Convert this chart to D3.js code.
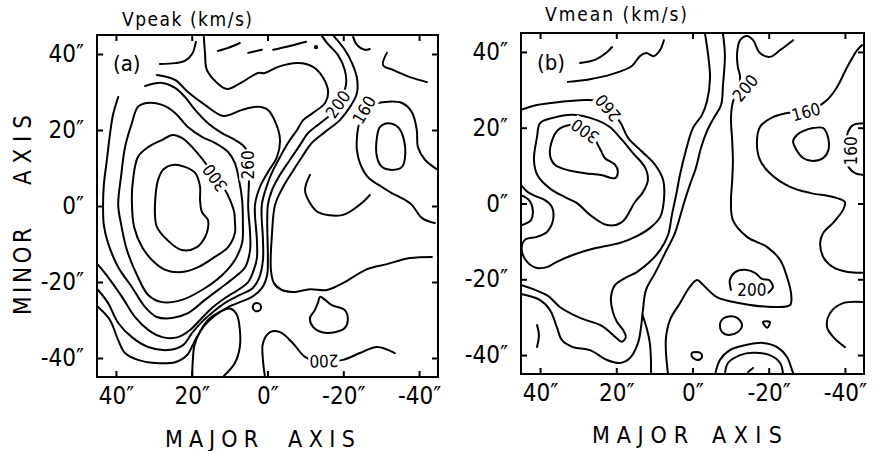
<!DOCTYPE html>
<html>
<head>
<meta charset="utf-8">
<script src="https://cdn.jsdelivr.net/npm/d3@7"></script>
<style>
body { margin: 0; background: #fff; }
svg { display: block; }
text { font-family: "DejaVu Sans Condensed", "DejaVu Sans", sans-serif; fill: #000; }
</style>
</head>
<body>
<svg id="chart" width="877" height="451"></svg>
<script>
// tick values and labels (arcsec)
const ticks = [40, 20, 0, -20, -40];
const tickText = ["40\u2033", "20\u2033", "0\u2033", "-20\u2033", "-40\u2033"];
const titles = ["Vpeak (km/s)", "Vmean (km/s)"];
const tags = ["(a)", "(b)"];

// panel (a) Vpeak contours: [major, minor] offsets in arcsec
const peakLines = [
  {v: 320, closed: true, pts: [[29.7,0.3],[29.4,4.2],[28.9,6.8],[27.6,9.5],[25,10.8],[21.8,10.3],[19.1,8.7],[17.8,5],[17.8,1.6],[17.3,-1.6],[15.7,-3.7],[15.7,-5.8],[16.5,-8.2],[18.6,-10.8],[22.6,-11.6],[26.5,-8.9],[29.2,-5.5],[29.7,-2.4]]},
  {v: 300, closed: true, pts: [[35.8,1.6],[35.5,6.8],[34.2,12.9],[31.5,15.5],[27.8,17.4],[25,18.7],[22.6,17.9],[19.7,15.3],[17,12.1],[13.9,7.9],[11.2,4.2],[9.9,1.6],[8.8,-1.6],[8.6,-4.2],[8.6,-7.1],[10.4,-10.8],[13.9,-13.4],[18.3,-16.1],[22.6,-17.4],[27,-16.8],[30.5,-14.2],[33.1,-10.8],[35.2,-5.5]]},
  {v: 280, closed: true, pts: [[39.4,0.3],[38.6,8.2],[37.6,15.5],[35.8,21.8],[34.2,26.1],[31.8,27.1],[27.8,26.6],[24.4,24.5],[21,20.8],[17.3,18.2],[13.9,16.6],[10.4,14.2],[8.6,11.3],[7.5,6.8],[6.7,1.6],[6.5,-4.5],[6.7,-9.7],[8.6,-14.2],[12,-18.2],[17.3,-22.1],[22.6,-24.7],[27.8,-25.3],[31.5,-23.4],[34.2,-18.7],[37.1,-11.6],[38.6,-5]]},
  {v: 260, closed: false, pts: [[39.4,28.7],[40.8,23.9],[41.6,18.7],[42.4,12.1],[43.2,5.5],[43.4,0.3],[43.2,-5],[42.1,-9.7],[39.4,-16.1],[35.8,-21.3],[32.3,-26.6],[29.2,-29.2],[25.2,-29.5],[21,-28.2],[16.5,-24.7],[12,-21.3],[8.6,-18.7],[5.9,-16.1],[4.6,-11.6],[4.6,-7.1],[5.1,-0.3],[4.9,6.1],[4.9,10.8],[5.9,15.3],[8.6,17.4],[12,19.2],[15.7,21.8],[19.1,25.3],[21.8,28.7],[24.4,31.1],[27.8,32.4],[32.3,31.6]]},
  {v: 240, closed: false, pts: [[29.2,34.5],[24.4,33.2],[21,30],[16.5,26.6],[11.7,23.7],[6.7,25.3],[2.5,26.1],[-0.1,25.3],[-2.2,21.8],[-3.3,17.4],[-2.5,12.9],[-0.1,8.9],[2,5],[3.3,0.3],[2.8,-8.9],[2.8,-13.7],[3.6,-16.8],[5.1,-20],[7.8,-22.1],[11.2,-24.2],[14.6,-26.8],[17.8,-30],[20.4,-32.6],[23.6,-34.5],[27.8,-34.5],[31.5,-32.6],[35,-29.2],[38.4,-23.9],[42.1,-18.7],[44.7,-15.5]]},
  {v: 220, closed: false, pts: [[44.7,-22.1],[42.1,-25.5],[39.4,-30.8],[35.8,-34.5],[31.5,-37.1],[26.3,-37.9],[22.3,-36.6],[19.9,-33.4],[17.3,-30.5],[14.4,-27.9],[10.9,-25.3],[7.3,-23.4],[4.1,-21.8],[2.2,-18.9],[1.2,-14.2],[1.2,-8.9],[1.5,0.3],[-0.1,6.1],[-1.5,9.5],[-3.3,12.9],[-5.4,16.6],[-7.8,20],[-9.4,22.6],[-12,24.5],[-15.2,27.1],[-16,30],[-14.6,33.9],[-12,36.6],[-8,37.6],[-2.8,36.6],[0.7,35],[2.5,35],[6.7,32.6],[10.7,30.8],[13.3,32.4],[16,35.8],[16.5,40.3],[16.8,44.5]]},
  {v: 200, closed: false, pts: [[44.7,-26.6],[41.6,-30],[39.4,-35.3],[37.6,-38.7],[34.2,-40.5],[29.7,-41.3],[24.4,-41.1],[21.2,-39.2],[19.1,-35.3],[16.5,-31.3],[13.9,-28.9],[10.4,-26.6],[7.3,-25.3],[4.1,-23.9],[1.5,-21.6],[0.1,-18.2],[-0.1,-14.2],[-0.1,0.3],[-1.2,4.2],[-3.3,8.2],[-5.9,12.1],[-8.6,16.1],[-10.7,19.2],[-13.9,21.8],[-16.5,23.9],[-19.1,27.9],[-20.7,31.8],[-20.4,35.8],[-18.6,39.7],[-15.7,42.9],[-14.4,44.7]]},
  {v: 180, closed: false, pts: [[-17.5,44.7],[-20.4,41.1],[-22.3,37.6],[-23.6,33.7],[-23.6,29.7],[-21.8,26.1],[-19.1,22.6],[-15.2,19.5],[-11.7,16.6],[-9.1,12.9],[-6.5,8.9],[-4.1,5],[-2,0.3],[-1.2,-7.1],[-0.9,-16.8],[-1.7,-20.3],[-3.8,-22.1],[-7.3,-22.6],[-11.2,-21.9],[-15.7,-22.1],[-19.9,-20.3],[-26.3,-16.6],[-31.5,-15.3],[-37.6,-13.7],[-43.4,-13.4]]},
  {v: 160, closed: false, pts: [[-45,9.5],[-41.6,12.1],[-39.7,15.5],[-39.4,20],[-38.1,24.7],[-35.5,27.1],[-31,27.4],[-27.6,26.6],[-25.5,24.5],[-24.1,21.3],[-23.6,17.9],[-23.6,14.7],[-24.4,11.3],[-26.5,7.6],[-30.2,5],[-32.8,3.4],[-36.3,1.6],[-38.1,0.3],[-40.8,-3.2],[-44.2,-4.5]]},
  {v: 140, closed: true, pts: [[-29.7,20.8],[-31.8,21.8],[-34.4,20.8],[-35.8,18.2],[-36.3,12.9],[-35.5,10.3],[-32.8,9.5],[-30.2,10.3],[-28.9,12.9],[-28.9,18.2]]},
  {v: 180, closed: false, pts: [[-11.2,8.2],[-9.9,4.2],[-11.2,0.8],[-13.3,-1.6],[-19.7,-2.4],[-24.9,0.8],[-27,2.9]]},
  {v: 200, closed: false, pts: [[0.7,-44.7],[1.2,-40.5],[1.2,-36.1],[-0.7,-33.2],[-3.3,-33.2],[-6.7,-36.1],[-9.9,-39.7],[-13.9,-41],[-19.9,-40.5],[-24.4,-38.7],[-28.9,-37.1],[-33.6,-38.7]]},
  {v: 200, closed: false, pts: [[19.9,-45],[19.7,-40.5],[19.3,-36.8],[17.8,-33],[15.7,-30],[12.5,-27.8],[9.9,-27],[8.1,-28.6],[7.3,-32.6],[7.3,-37.1],[8.6,-41.3],[11.5,-44.7]]},
  {v: 180, closed: true, pts: [[-13.9,-23.9],[-15.2,-24.7],[-17,-26.1],[-20.4,-27.4],[-21.2,-30],[-20.4,-32.1],[-17.8,-33.2],[-14.4,-33.2],[-12,-31.8],[-11.2,-29.5],[-12.5,-27.4],[-13.3,-25.5]]},
  {v: 240, closed: false, pts: [[28.4,37.4],[24.4,37.6],[21.8,38.2],[19.9,40],[18.9,43.2]]},
  {v: 200, closed: false, pts: [[13.1,40.8],[10.4,41.6],[7.3,42.9]]},
  {v: 200, closed: false, pts: [[5.1,40.3],[1.5,41.1]]},
  {v: 200, closed: false, pts: [[-1.5,41.1],[-5.9,42.1],[-10.2,43.2]]},
  {v: 160, closed: false, pts: [[-22.6,44.5],[-23.6,42.4],[-25.7,41.1],[-27,41.3]]},
  {v: 160, closed: false, pts: [[-31.5,40.3],[-30.5,37.1],[-33.1,35.8],[-37.6,33.9],[-42.1,32.6]]}
];
const peakDots = [{x: 2.8, y: -26.6, r: 1.1}, {x: -12.8, y: 41.8, r: 0.3}];
const peakLabels = [
  {t: "300", x: 13.9, y: 7.4, a: -125},
  {t: "260", x: 5.1, y: 10.8, a: -90},
  {t: "200", x: -18.6, y: 26.8, a: -55},
  {t: "160", x: -25.5, y: 25.3, a: -60},
  {t: "200", x: -14.9, y: -40.8, a: 178}
];

// panel (b) Vmean contours
const meanLines = [
  {v: 300, closed: true, pts: [[36.6,17.3],[37.4,12.8],[36.1,10.2],[32.7,8.8],[28.2,8],[24,7.5],[20.3,6.7],[19.6,8.6],[20.3,10.2],[23,12],[24,13.9],[24.8,15.4],[26.1,18.1],[28.2,20.2],[32.2,20.7],[35.3,19.4]]},
  {v: 280, closed: true, pts: [[40.8,17.5],[40,21.2],[36.6,22.6],[31.4,23.4],[25.1,22],[21.7,20.2],[18.5,16.8],[15.6,13.3],[12.5,9.6],[11.7,6.2],[13,3],[15.1,0.4],[18.5,-4.9],[22.4,-5.7],[26.9,-3],[30.3,0.1],[33.5,1.7],[37.2,3.8],[40.6,7.3],[41.6,11.5]]},
  {v: 260, closed: false, pts: [[45,24.7],[40.8,26],[34.8,26.8],[27.7,27.3],[24.3,26.8],[21.1,24.2],[18.8,21.2],[16.9,17.3],[13.5,13.9],[9.8,10.2],[7.7,6.2],[7.5,0.9],[8.5,-3.6],[11.2,-6.5],[14.6,-8.6],[19,-10.4],[25.1,-11.7],[31.4,-13.6],[35.6,-15.4],[38.2,-16.8],[40.8,-17],[43.4,-15.4],[44.8,-12.3],[44,-9.6],[40.8,-8.8],[38.2,-7.5],[36.6,-4.4],[36.9,-0.9],[38.7,0.9],[41.3,2],[43.2,3],[45,4.9]]},
  {v: 280, closed: false, pts: [[45,2.2],[42.9,0.9],[41.9,-1.7],[42.4,-4.4],[44.8,-5.7]]},
  {v: 240, closed: false, pts: [[40.8,-32.1],[40.3,-34.7],[40.8,-37.9]]},
  {v: 240, closed: false, pts: [[-3.3,44.7],[-4.1,39.2],[-4.6,33.1],[-3.8,27],[-2.5,23.4],[-0.1,19.9],[1.7,14.1],[3.3,7.5],[4.3,2.2],[5.4,-3],[6.4,-8.3],[8.5,-12.3],[11.2,-15.4],[14.6,-18.1],[17.7,-19.7],[20.3,-21.5],[21.4,-24.9],[20.9,-28.6],[19.8,-31.3],[18.2,-33.4],[17.5,-35.2],[18.5,-36.5],[20.3,-35.2],[23.8,-32.3],[29.5,-30.2],[34.8,-27.3],[37.9,-24.4],[41.3,-22.8],[45,-21.5]]},
  {v: 220, closed: false, pts: [[-8,44.7],[-8.5,39.2],[-8,31.3],[-7.5,26],[-5.6,22.6],[-3.8,19.1],[-2.2,14.6],[-0.9,9.4],[0.7,4.9],[2,0.9],[3,-2.5],[4.6,-7.8],[7.2,-13.1],[9.8,-18.3],[12.2,-22.8],[13,-28.1],[13.5,-32.6],[14.3,-36.8],[16.4,-40.8],[19,-42.1],[22.4,-41.3],[26.9,-38.7],[31.4,-37.9],[34.3,-36],[35.6,-32.6],[37.4,-28.1],[40,-25.5],[45,-23.9]]},
  {v: 220, closed: false, pts: [[10.9,-45.3],[10.9,-41.3],[11.2,-36.8],[12,-33],[13.1,-29.5]]},
  {v: 200, closed: false, pts: [[-26.4,43.1],[-23,40.5],[-20.3,38.7],[-17.7,39.7],[-15.9,43.1],[-14.3,44.2],[-12.5,43.1],[-11.7,39.7],[-11.9,36],[-12.5,33.4],[-11.9,29.9],[-10.6,26.8],[-10.1,22.6],[-10.4,16.8],[-10.6,11.2],[-10.4,5.9],[-10.1,0.9],[-10.6,-4.4],[-14.3,-8.8],[-19.6,-11.5],[-23,-14.9],[-24.8,-19.4],[-25.9,-24.1],[-25.6,-26.8],[-21.1,-27.3],[-12.5,-26.3],[-6.4,-24.7],[-2.8,-21.5],[-1.2,-20.2],[0.7,-22],[3.3,-26.3],[5.9,-30.7],[7,-36],[6.4,-45.3]]},
  {v: 200, closed: false, pts: [[-10.1,-22.8],[-9.8,-20.2],[-11.2,-18.1],[-13.8,-17.5],[-16.4,-18.3],[-18.2,-19.9],[-20.1,-20.2],[-21.1,-22],[-19.8,-23.6]]},
  {v: 180, closed: true, pts: [[-7.7,-30.7],[-9.1,-29.9],[-11.7,-30.2],[-13,-32.1],[-11.9,-33.9],[-9.3,-34.7],[-7.7,-33.9],[-7.2,-32.1]]},
  {v: 180, closed: true, pts: [[-18.5,-31.3],[-20.3,-31.3],[-19.6,-32.8]]},
  {v: 180, closed: true, pts: [[0.1,-39.4],[-2,-39.4],[-2.5,-40.5],[-1.5,-41.3],[0.1,-40.5]]},
  {v: 200, closed: false, pts: [[-5.9,-45.3],[-7.2,-41.3],[-9.8,-38.7],[-14.3,-37.3],[-18.5,-36.8],[-22.2,-37.9],[-24.8,-40.5],[-26.1,-43.9],[-26.6,-45.3]]},
  {v: 220, closed: false, pts: [[-8.5,-45.3],[-9.3,-42.1],[-12.5,-40],[-15.9,-39.4],[-20.3,-40],[-23,-42.1],[-23.8,-45.3]]},
  {v: 240, closed: false, pts: [[-14.6,-44.5],[-15.9,-43.4]]},
  {v: 160, closed: false, pts: [[-44.5,41.8],[-43.2,40.5],[-40.6,36],[-37.9,30.7],[-35.3,27.3],[-32.7,25.5],[-28.2,24.2],[-24.8,23.9],[-21.1,22.8],[-17.7,20.2],[-16.9,16],[-17.7,11.5],[-20.3,8],[-25.6,4.4],[-30.8,2.8],[-36.9,1.7],[-40,0.4],[-39.5,-1.7],[-36.9,-5.1],[-34.3,-7.8],[-33.5,-10.4],[-34.3,-14.1],[-36.9,-16.8],[-40.8,-18.1],[-44.5,-18.3]]},
  {v: 140, closed: true, pts: [[-29,19.1],[-31.6,19.9],[-34.3,19.9],[-35.6,17.3],[-35.6,13.9],[-34.3,12],[-31.6,11.2],[-29,12],[-27.4,13.9],[-26.4,16.5],[-27.4,18.1]]},
  {v: 160, closed: false, pts: [[-45,21.2],[-42.1,20.7],[-40.8,18.9],[-40.3,15.4],[-40.3,12],[-41.1,9.4],[-42.7,8],[-45,7.5]]},
  {v: 160, closed: false, pts: [[-45,-26],[-39.5,-26.3],[-36.1,-28.9],[-35.3,-32.6],[-36.9,-35.2],[-40,-37.9]]},
  {v: 260, closed: false, pts: [[29.5,37.1],[25.6,37.9],[22.7,39.7],[21.1,41.3]]},
  {v: 240, closed: false, pts: [[32.7,32.1],[26.9,32.8],[20.9,34.2],[15.9,36.3],[13.8,38.9],[12.2,39.7],[10.1,38.9],[8.5,40.5],[7.5,43.1]]}
];
const meanDots = [];
const meanLabels = [
  {t: "300", x: 28.2, y: 19.1, a: -145},
  {t: "260", x: 22.2, y: 25.2, a: -130},
  {t: "200", x: -13.8, y: 30.5, a: -50},
  {t: "160", x: -29.8, y: 24.2, a: -15},
  {t: "160", x: -41.6, y: 13.9, a: -90},
  {t: "200", x: -15.6, y: -22.8, a: 0}
];

const panels = [
  {id: "a", x0: 97, x1: 438, y0: 35, y1: 377, lines: peakLines, dots: peakDots, labels: peakLabels,
   title: titles[0], titleX: 122, titleY: 26, titleW: 130, tag: tags[0], tagX: 113, tagY: 71,
   yAxisLabel: true, majorY: 447, majorX: [165, 288], majorW: [93, 67]},
  {id: "b", x0: 521, x1: 864, y0: 33, y1: 374, lines: meanLines, dots: meanDots, labels: meanLabels,
   title: titles[1], titleX: 545, titleY: 21, titleW: 142, tag: tags[1], tagX: 537, tagY: 70,
   yAxisLabel: false, majorY: 443, majorX: [592, 712], majorW: [96, 70]}
];

const svg = d3.select("#chart");

panels.forEach(function(p) {
  let x = d3.scaleLinear().domain([45, -45]).range([p.x0, p.x1]);
  let y = d3.scaleLinear().domain([45, -45]).range([p.y0, p.y1]);

  svg.append("clipPath").attr("id", "clip-" + p.id)
    .append("rect").attr("x", p.x0).attr("y", p.y0)
    .attr("width", p.x1 - p.x0).attr("height", p.y1 - p.y0);

  let body = svg.append("g").attr("clip-path", "url(#clip-" + p.id + ")");

  let openLine = d3.line().x(d => x(d[0])).y(d => y(d[1])).curve(d3.curveCatmullRom.alpha(0.5));
  let shutLine = d3.line().x(d => x(d[0])).y(d => y(d[1])).curve(d3.curveCatmullRomClosed.alpha(0.5));

  body.selectAll("path.contour")
    .data(p.lines)
    .enter()
    .append("path")
    .attr("class", "contour")
    .attr("d", d => d.closed ? shutLine(d.pts) : openLine(d.pts))
    .attr("fill", "none")
    .attr("stroke", "#000")
    .attr("stroke-width", 2)
    .attr("stroke-linejoin", "round")
    .attr("stroke-linecap", "round");

  body.selectAll("ellipse.dot")
    .data(p.dots)
    .enter()
    .append("ellipse")
    .attr("cx", d => x(d.x))
    .attr("cy", d => y(d.y))
    .attr("rx", d => Math.abs(x(d.r) - x(0)))
    .attr("ry", d => Math.abs(y(d.r) - y(0)))
    .attr("fill", "none")
    .attr("stroke", "#000")
    .attr("stroke-width", 2);

  // contour labels knocked out of the lines
  let lab = body.selectAll("g.lab")
    .data(p.labels)
    .enter()
    .append("g")
    .attr("transform", d => "translate(" + x(d.x) + "," + y(d.y) + ") rotate(" + d.a + ")");
  lab.append("rect").attr("fill", "#fff");
  lab.append("text")
    .attr("text-anchor", "middle")
    .attr("dy", "0.36em")
    .attr("font-size", 17)
    .text(d => d.t);
  lab.each(function() {
    let g = d3.select(this);
    let b = g.select("text").node().getBBox();
    g.select("rect").attr("x", b.x - 1).attr("y", b.y + 1).attr("width", b.width + 2).attr("height", b.height - 2);
  });

  // axes with inward ticks on all four sides
  let bottom = svg.append("g").attr("transform", "translate(0," + p.y1 + ")")
    .call(d3.axisBottom(x).tickValues(ticks).tickSize(-6).tickPadding(10).tickFormat((d, i) => tickText[i]));
  let left = svg.append("g").attr("transform", "translate(" + p.x0 + ",0)")
    .call(d3.axisLeft(y).tickValues(ticks).tickSize(-6).tickPadding(13).tickFormat((d, i) => tickText[i]));
  let top = svg.append("g").attr("transform", "translate(0," + p.y0 + ")")
    .call(d3.axisTop(x).tickValues(ticks).tickSize(-6).tickFormat(""));
  let right = svg.append("g").attr("transform", "translate(" + p.x1 + ",0)")
    .call(d3.axisRight(y).tickValues(ticks).tickSize(-6).tickFormat(""));

  [bottom, left, top, right].forEach(function(ax) {
    ax.select(".domain").remove();
    ax.selectAll(".tick line").attr("stroke", "#000").attr("stroke-width", 2);
    ax.selectAll("text")
      .attr("font-family", "\"DejaVu Sans Condensed\", \"DejaVu Sans\", sans-serif")
      .attr("font-size", 24)
      .attr("fill", "#000");
  });

  svg.append("rect")
    .attr("x", p.x0).attr("y", p.y0)
    .attr("width", p.x1 - p.x0).attr("height", p.y1 - p.y0)
    .attr("fill", "none").attr("stroke", "#000").attr("stroke-width", 2);

  svg.append("text")
    .attr("x", p.titleX).attr("y", p.titleY)
    .attr("font-family", "\"DejaVu Sans\", sans-serif")
    .attr("font-size", 19)
    .attr("textLength", p.titleW).attr("lengthAdjust", "spacing")
    .text(p.title);

  svg.append("text")
    .attr("x", p.tagX).attr("y", p.tagY)
    .attr("font-size", 22)
    .text(p.tag);

  ["MAJOR", "AXIS"].forEach(function(w, i) {
    svg.append("text")
      .attr("x", p.majorX[i]).attr("y", p.majorY)
      .attr("font-size", 23)
      .attr("textLength", p.majorW[i]).attr("lengthAdjust", "spacing")
      .text(w);
  });

  if (p.yAxisLabel) {
    [["MINOR", 315, 87], ["AXIS", 185, 70]].forEach(function(w) {
      svg.append("text")
        .attr("transform", "translate(31," + w[1] + ") rotate(-90)")
        .attr("font-size", 24)
        .attr("textLength", w[2]).attr("lengthAdjust", "spacing")
        .text(w[0]);
    });
  }
});
</script>
</body>
</html>
